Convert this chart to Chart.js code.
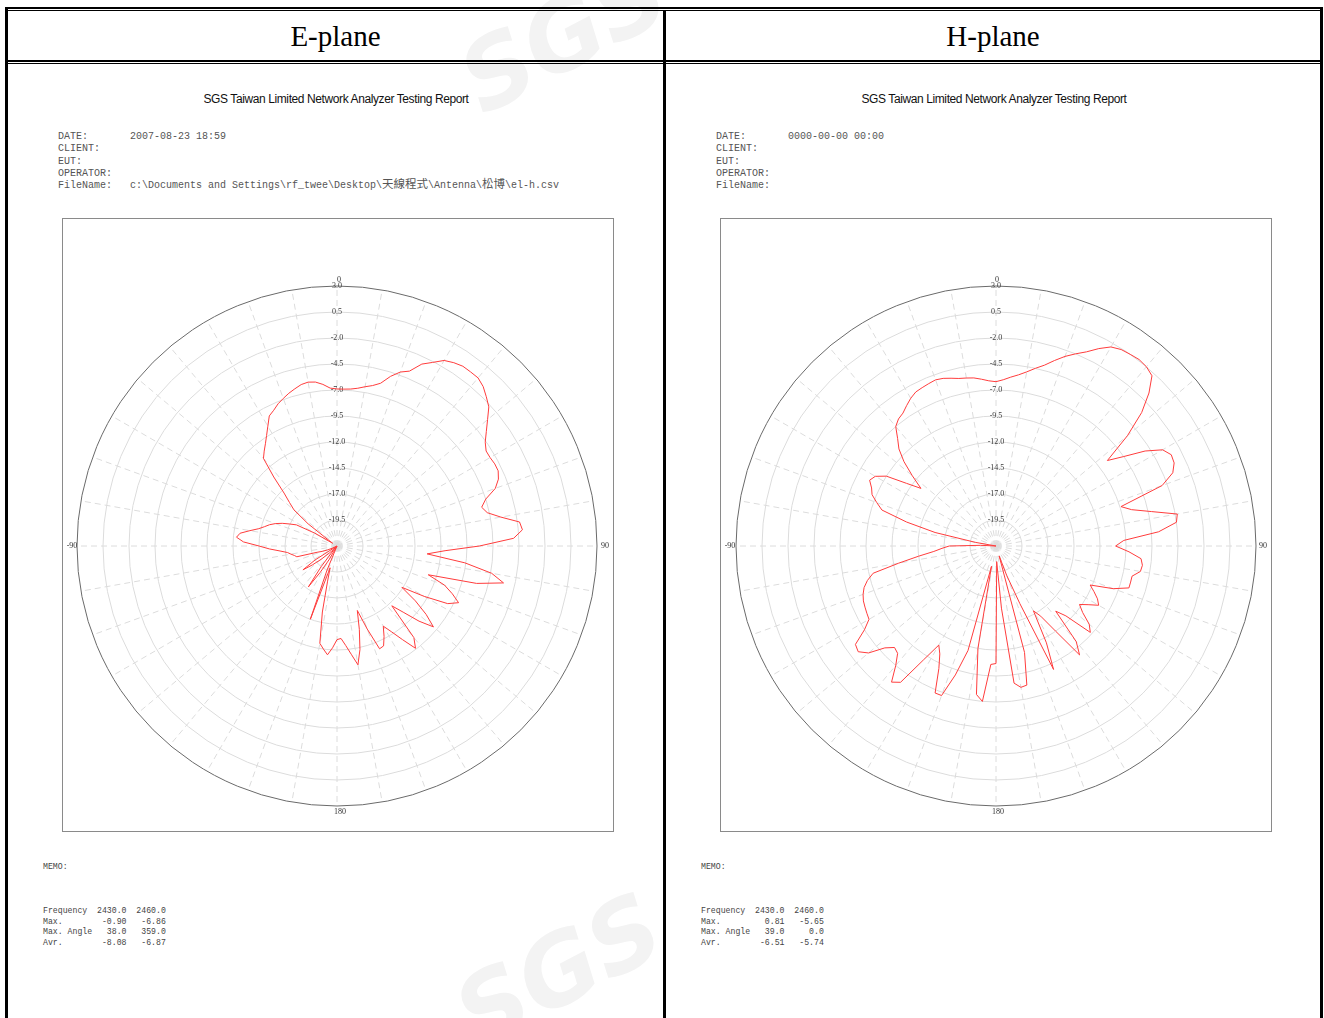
<!DOCTYPE html>
<html><head><meta charset="utf-8">
<script src="https://cdn.jsdelivr.net/npm/chart.js@4.4.0/dist/chart.umd.min.js"></script>
<style>
html,body{margin:0;padding:0;background:#fff;width:1324px;height:1018px;overflow:hidden}
body{position:relative}
.ln{position:absolute;background:#000}
.wm{position:absolute;font-family:"DejaVu Sans",sans-serif;font-weight:bold;font-style:italic;color:#f3f3f3;font-size:96px;transform:rotate(-28deg);white-space:nowrap}
.hdr{position:absolute;top:11px;height:49px;line-height:50px;text-align:center;font-family:"Liberation Serif","Times New Roman",serif;font-size:29px;color:#000}
.panel{position:absolute;top:0;width:662px;height:1018px}
.title{position:absolute;top:92px;left:0;width:672px;text-align:center;font-family:"Liberation Sans",Arial,sans-serif;font-size:12px;letter-spacing:-0.4px;color:#111}
.info{position:absolute;left:58px;height:12px;line-height:12px;font-family:"Liberation Mono","Courier New",monospace;font-size:10px;color:#555;white-space:pre;overflow:visible}
.cjk{font-family:"Noto Sans CJK TC",sans-serif;font-size:11.5px;line-height:12px;vertical-align:baseline}
.box{position:absolute;left:62px;top:218px;width:550px;height:612px;border:1px solid #8a8a8a}
.cv{position:absolute;top:282px}
.pl{position:absolute;width:30px;height:10px;line-height:10px;text-align:center;font-family:"Liberation Serif",serif;font-size:8px;color:#333}
.memo{position:absolute;left:43px;font-family:"Liberation Mono","Courier New",monospace;font-size:8.2px;line-height:10.7px;color:#444;white-space:pre}
</style></head>
<body>
<div class="wm" style="left:455px;top:-20px">SGS</div>
<div class="wm" style="left:450px;top:915px">SGS</div>
<!-- table borders -->
<div class="ln" style="left:5px;top:7px;width:1318px;height:2px"></div>
<div class="ln" style="left:8px;top:10px;width:1312px;height:1px"></div>
<div class="ln" style="left:8px;top:60px;width:1312px;height:2px"></div>
<div class="ln" style="left:8px;top:63px;width:1312px;height:1px"></div>
<div class="ln" style="left:5px;top:7px;width:3px;height:1011px"></div>
<div class="ln" style="left:663px;top:10px;width:3px;height:1008px"></div>
<div class="ln" style="left:1320px;top:7px;width:3px;height:1011px"></div>
<div class="hdr" style="left:8px;width:655px">E-plane</div>
<div class="hdr" style="left:666px;width:654px">H-plane</div>

<div class="panel" style="left:0px">
  <div class="title">SGS Taiwan Limited Network Analyzer Testing Report</div>
  <div class="info" style="top:131px">DATE:       2007-08-23 18:59</div>
  <div class="info" style="top:143px">CLIENT:</div>
  <div class="info" style="top:156px">EUT:</div>
  <div class="info" style="top:168px">OPERATOR:</div>
  <div class="info" style="top:177px">FileName:   c:\Documents and Settings\rf_twee\Desktop\<span class="cjk">天線程式</span>\Antenna\<span class="cjk">松博</span>\el-h.csv</div>
  <div class="box"></div>
  <canvas id="cE" class="cv" width="528" height="528" style="left:73px"></canvas>
  <div class="pl" style="left:324px;top:275px">0</div>
  <div class="pl" style="left:590px;top:541px">90</div>
  <div class="pl" style="left:57px;top:541px">-90</div>
  <div class="pl" style="left:325px;top:807px">180</div>
  <div class="memo" style="top:862px">MEMO:</div>
  <div class="memo" style="top:906px">Frequency  2430.0  2460.0
Max.        -0.90   -6.86
Max. Angle   38.0   359.0
Avr.        -8.08   -6.87</div>
</div>

<div class="panel" style="left:658px">
  <div class="title">SGS Taiwan Limited Network Analyzer Testing Report</div>
  <div class="info" style="top:131px">DATE:       0000-00-00 00:00</div>
  <div class="info" style="top:143px">CLIENT:</div>
  <div class="info" style="top:156px">EUT:</div>
  <div class="info" style="top:168px">OPERATOR:</div>
  <div class="info" style="top:180px">FileName:</div>
  <div class="box"></div>
  <canvas id="cH" class="cv" width="528" height="528" style="left:74px"></canvas>
  <div class="pl" style="left:324px;top:275px">0</div>
  <div class="pl" style="left:590px;top:541px">90</div>
  <div class="pl" style="left:57px;top:541px">-90</div>
  <div class="pl" style="left:325px;top:807px">180</div>
  <div class="memo" style="top:862px">MEMO:</div>
  <div class="memo" style="top:906px">Frequency  2430.0  2460.0
Max.         0.81   -5.65
Max. Angle   39.0     0.0
Avr.        -6.51   -5.74</div>
</div>

<script>
// angle categories (degrees, clockwise from top)
const angleLabels = [0,2.5,5,7.5,10,12.5,15,17.5,20,22.5,25,27.5,30,32.5,35,37.5,40,42.5,45,47.5,50,52.5,55,57.5,60,62.5,65,67.5,70,72.5,75,77.5,80,82.5,85,87.5,90,92.5,95,97.5,100,102.5,105,107.5,110,112.5,115,117.5,120,122.5,125,127.5,130,132.5,135,137.5,140,142.5,145,147.5,150,152.5,155,157.5,160,162.5,165,167.5,170,172.5,175,177.5,180,182.5,185,187.5,190,192.5,195,197.5,200,202.5,205,207.5,210,212.5,215,217.5,220,222.5,225,227.5,230,232.5,235,237.5,240,242.5,245,247.5,250,252.5,255,257.5,260,262.5,265,267.5,270,272.5,275,277.5,280,282.5,285,287.5,290,292.5,295,297.5,300,302.5,305,307.5,310,312.5,315,317.5,320,322.5,325,327.5,330,332.5,335,337.5,340,342.5,345,347.5,350,352.5,355,357.5];

// radial tick range (dB)
const rMin = -22.0;
const rMax = 3.0;
const rStep = 2.5;

// E-plane measured gain (dB)
const ePlane = [
-6.9,-6.9,-6.85,-6.7,-6.45,-6.2,-5.8,-4.9,-4.2,-3.8,
-2.7,-2.1,-1.4,-1.1,-0.9,-0.9,-0.9,-1.2,-1.7,-2.2,
-3.1,-3.9,-4.6,-5.0,-5.0,-4.9,-4.9,-5.2,-5.8,-7.0,
-7.6,-7.2,-6.0,-4.3,-4.1,-5.0,-8.3,-11.6,-13.3,-9.6,
-6.9,-5.6,-8.1,-12.8,-11.0,-10.0,-9.1,-10.0,-12.3,-14.6,
-12.8,-11.2,-9.9,-11.3,-13.0,-14.2,-10.5,-9.6,-11.0,-12.2,
-13.1,-12.2,-11.4,-11.3,-13.5,-15.5,-13.7,-11.8,-10.4,-11.5,
-12.4,-13.1,-13.0,-12.2,-11.5,-12.0,-12.5,-15.5,-18.5,-19.8,
-14.5,-19.5,-22.0,-22.0,-20.5,-19.0,-17.2,-19.5,-21.5,-22.0,
-21.5,-21.0,-20.0,-19.0,-18.0,-19.5,-22.0,-22.0,-21.5,-21.0,
-20.5,-20.0,-18.0,-17.8,-17.5,-17.2,-16.5,-15.5,-14.5,-13.0,
-12.3,-12.6,-13.5,-14.3,-14.8,-15.2,-15.7,-16.3,-17.0,-17.6,
-19.5,-21.5,-21.0,-18.5,-16.6,-15.8,-14.8,-13.0,-11.0,-10.5,
-10.0,-9.4,-8.7,-7.9,-7.6,-7.2,-6.9,-6.6,-6.35,-6.1,
-6.0,-6.1,-6.4,-6.8
];

// H-plane measured gain (dB)
const hPlane = [
-6.2,-6.0,-5.7,-5.4,-5.0,-4.5,-4.0,-3.3,-2.6,-2.0,
-1.4,-0.6,0.1,0.4,0.5,0.6,0.5,0.2,-1.2,-3.0,
-5.5,-8.5,-7.0,-5.0,-3.5,-3.0,-3.1,-3.6,-5.0,-9.4,
-8.5,-6.7,-4.3,-4.5,-6.3,-9.7,-10.5,-9.2,-8.0,-7.8,
-7.9,-8.6,-8.6,-8.6,-10.0,-12.2,-11.6,-11.0,-10.6,-11.5,
-12.2,-11.5,-10.3,-9.7,-12.5,-13.5,-10.0,-8.8,-12.0,-14.0,
-14.8,-11.5,-8.9,-16.0,-19.0,-21.0,-11.4,-8.3,-8.2,-8.7,
-16.0,-20.5,-10.7,-10.6,-7.0,-7.6,-12.0,-20.0,-11.6,-9.0,
-6.7,-6.7,-9.0,-10.3,-11.0,-9.0,-6.0,-5.5,-7.0,-8.0,
-8.2,-7.5,-6.0,-5.3,-5.5,-7.0,-7.9,-8.0,-8.1,-8.2,
-8.4,-8.7,-9.2,-9.9,-12.5,-14.5,-16.0,-16.8,-17.5,-20.5,
-22.0,-22.0,-20.0,-16.0,-13.1,-10.5,-9.8,-9.1,-8.8,-8.3,
-8.6,-9.5,-11.5,-12.9,-11.5,-10.0,-8.8,-8.0,-7.0,-6.6,
-6.4,-6.0,-5.6,-5.3,-5.2,-5.1,-5.0,-5.1,-5.3,-5.5,
-5.6,-5.7,-5.9,-6.1
];

function makePolar(id, values) {
  return new Chart(document.getElementById(id), {
    type: 'radar',
    data: {
      labels: angleLabels,
      datasets: [{
        data: values,
        borderColor: '#ff3c3c',
        borderWidth: 1,
        pointRadius: 0,
        pointHoverRadius: 0,
        fill: false,
        tension: 0
      }]
    },
    options: {
      responsive: false,
      animation: false,
      devicePixelRatio: 1,
      layout: { padding: 0 },
      plugins: { legend: { display: false }, tooltip: { enabled: false } },
      scales: {
        r: {
          min: rMin,
          max: rMax,
          beginAtZero: false,
          startAngle: 0,
          ticks: {
            stepSize: rStep,
            showLabelBackdrop: false,
            backdropPadding: 0,
            color: '#3a3a3a',
            font: { family: 'Liberation Serif', size: 8 },
            callback: v => (v <= rMin + 0.01) ? '' : Number(v).toFixed(1)
          },
          grid: {
            circular: true,
            color: c => (c.tick && c.tick.value >= rMax - 0.01) ? '#6a6a6a' : '#dcdcdc',
            lineWidth: 1
          },
          angleLines: {
            display: true,
            color: '#dcdcdc',
            lineWidth: c => (c.index % 4 === 0) ? 1 : 0,
            borderDash: [6, 4]
          },
          pointLabels: { display: false }
        }
      }
    }
  });
}
makePolar('cE', ePlane);
makePolar('cH', hPlane);
</script>
</body></html>
